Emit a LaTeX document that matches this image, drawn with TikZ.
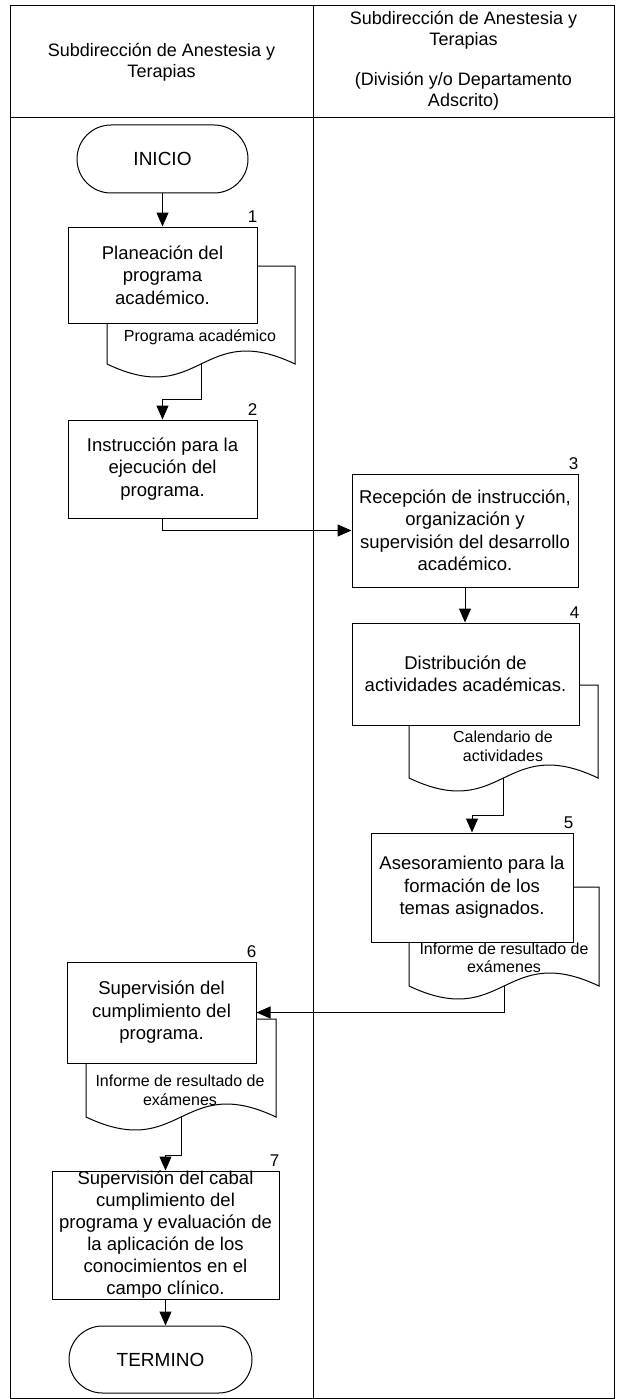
\documentclass[tikz,border=0pt]{standalone}
\usepackage{fontspec}
\setmainfont{Liberation Sans}
\usetikzlibrary{arrows.meta,shapes.misc}
\begin{document}
\begin{tikzpicture}[x=1pt,y=-1pt,
  lw/.style={line width=1pt},
  arr/.style={line width=1pt,-{Triangle[width=12pt,length=14pt]}},
  procbox/.style={draw,line width=1pt,fill=white,inner sep=0pt,align=center,font=\fontsize{18.5}{22.5}\selectfont},
  termbox/.style={draw,line width=1pt,fill=white,rounded rectangle,inner sep=0pt,font=\fontsize{19}{22}\selectfont},
  doctext/.style={align=center,inner sep=0pt,font=\fontsize{16}{18.5}\selectfont},
  numlab/.style={anchor=south east,inner sep=0pt,font=\fontsize{17}{17}\selectfont},
  hdr/.style={align=center,inner sep=0pt,font=\fontsize{18}{21}\selectfont},
  docshape/.style={draw,line width=1pt,fill=white}
]
\fill[white] (0,0) rectangle (616,1399);
\useasboundingbox (0,0) rectangle (616,1399);

% frame
\draw[lw] (10,6) rectangle (614,1398);
\draw[lw] (313,6) -- (313,1398);
\draw[lw] (10,118) -- (614,118);

% headers
\node[hdr] (h1) at (161.5,62) {Subdirección de Anestesia y\\Terapias};
\node[hdr] (h2) at (463.5,61) {Subdirección de Anestesia y\\Terapias\\[19pt](División y/o Departamento\\Adscrito)};

% document shapes (behind boxes)
\path[docshape] (107,266) -- (295,266) -- (295,364) .. controls (201,319) and (201,409) .. (107,364) -- cycle;
\coordinate (d1b) at (201,364);
\path[docshape] (409,685) -- (598,685) -- (598,778) .. controls (503.5,733) and (503.5,823) .. (409,778) -- cycle;
\coordinate (d4b) at (503.5,778);
\path[docshape] (409,887) -- (599,887) -- (599,986) .. controls (504,941) and (504,1031) .. (409,986) -- cycle;
\coordinate (d5b) at (504,986);
\path[docshape] (86,1019) -- (276,1019) -- (276,1117) .. controls (181,1072) and (181,1162) .. (86,1117) -- cycle;
\coordinate (d6b) at (181,1117);

% terminals
\node[termbox,minimum width=171pt,minimum height=68pt] (ini) at (162.5,159) {INICIO};
\node[termbox,minimum width=183pt,minimum height=67pt] (fin) at (160.5,1359.5) {TERMINO};

% process boxes
\node[procbox,minimum width=189pt,minimum height=96pt] (b1) at (162.5,275) {Planeación del\\programa\\académico.};
\node[procbox,minimum width=189pt,minimum height=98pt] (b2) at (162.5,469) {Instrucción para la\\ejecución del\\programa.};
\node[procbox,minimum width=226pt,minimum height=113pt] (b3) at (465,530.5) {Recepción de instrucción,\\organización y\\supervisión del desarrollo\\académico.};
\node[procbox,minimum width=227pt,minimum height=102pt] (b4) at (465.5,674) {Distribución de\\actividades académicas.};
\node[procbox,minimum width=202pt,minimum height=109pt] (b5) at (472,887.5) {Asesoramiento para la\\formación de los\\temas asignados.};
\node[procbox,minimum width=189pt,minimum height=101pt] (b6) at (161.5,1012.5) {Supervisión del\\cumplimiento del\\programa.};
\node[procbox,minimum width=227pt,minimum height=128pt,font=\fontsize{18.5}{22}\selectfont] (b7) at (165.5,1235) {Supervisión del cabal\\cumplimiento del\\programa y evaluación de\\la aplicación de los\\conocimientos en el\\campo clínico.};

% document texts
\node[doctext] (t1) at (200,337) {Programa académico};
\node[doctext] (t4) at (503,746.5) {Calendario de\\actividades};
\node[doctext] (t5) at (504,958) {Informe de resultado de\\exámenes};
\node[doctext] (t6) at (180,1090.5) {Informe de resultado de\\exámenes};

% step numbers
\node[numlab] (n1) at ([yshift=4pt]b1.north east) {1};
\node[numlab] (n2) at ([yshift=4pt]b2.north east) {2};
\node[numlab] (n3) at ([yshift=4pt]b3.north east) {3};
\node[numlab] (n4) at ([yshift=4pt]b4.north east) {4};
\node[numlab] (n5) at ([yshift=4pt]b5.north east) {5};
\node[numlab] (n6) at ([yshift=4pt]b6.north east) {6};
\node[numlab] (n7) at ([yshift=4pt]b7.north east) {7};

% connectors
\draw[arr] (ini.south) -- (b1.north);
\draw[arr] (d1b) -- ++(0,35) -| (b2.north);
\draw[arr] (b2.south) |- (b3.west);
\draw[arr] (b3.south) -- (b3.south |- b4.north);
\draw[arr] (d4b) -- ++(0,37) -| (b5.north);
\draw[arr] (d5b) |- (b6.east);
\draw[arr] (d6b) -- ++(0,38) -| (b7.north);
\draw[arr] (b7.south) -- (b7.south |- fin.north);
\end{tikzpicture}
\end{document}
